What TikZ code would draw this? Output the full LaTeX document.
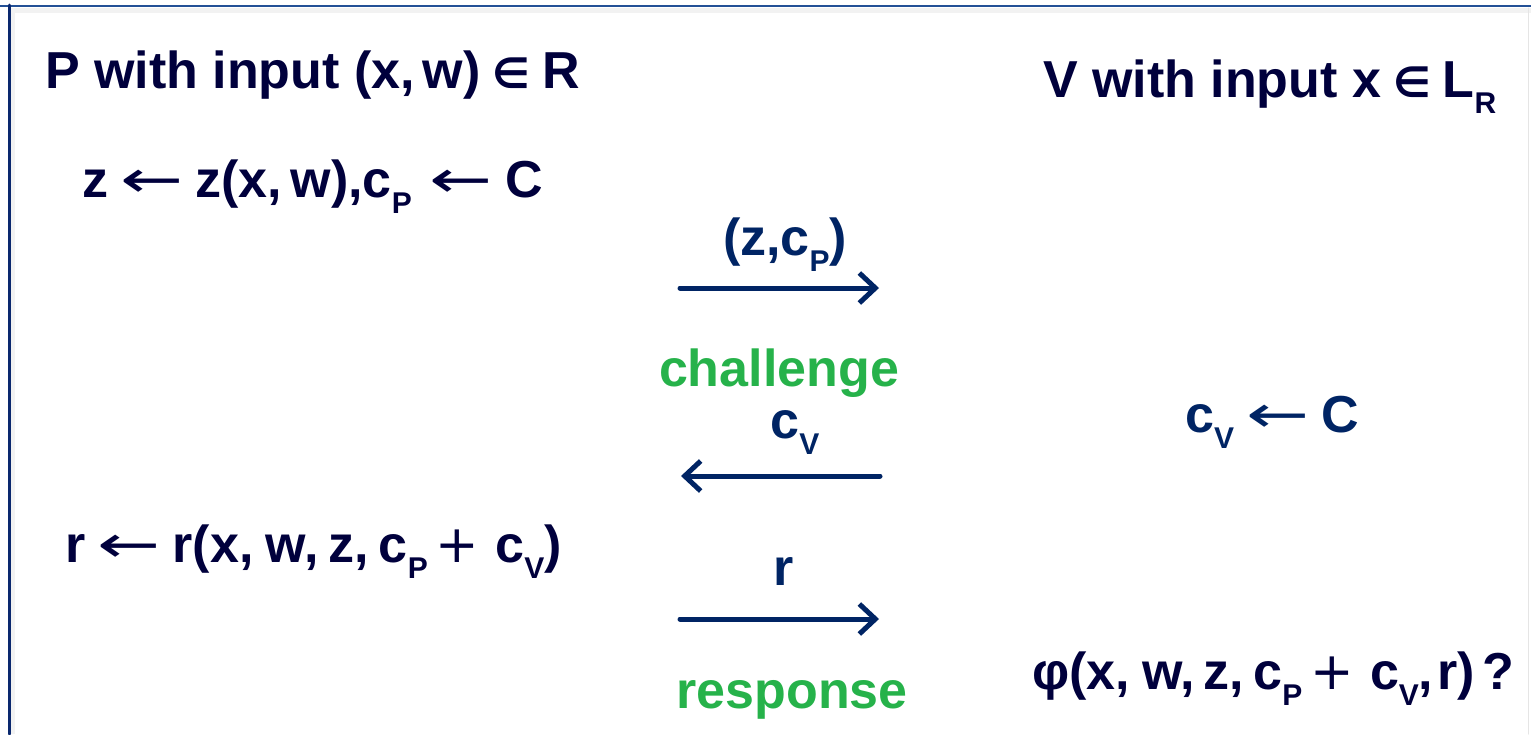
\documentclass[tikz,border=0pt]{standalone}
\usepackage{fontspec}
\usepackage{graphicx}
\setmainfont{Liberation Sans}
\newfontfamily\symfont{DejaVu Sans}
\usetikzlibrary{arrows.meta}

\definecolor{ink}{RGB}{0,0,60}
\definecolor{navy}{RGB}{0,36,100}
\definecolor{phasegreen}{RGB}{38,178,74}
\definecolor{frameblue}{RGB}{35,80,150}
\definecolor{framenavy}{RGB}{10,40,110}

% subscript and symbol helpers
\newcommand{\idx}[1]{\raisebox{-16pt}{\fontsize{30}{30}\selectfont #1}}
\newcommand{\sy}[1]{{\symfont\mdseries #1}}
\newcommand{\getsarr}{\hspace{12pt}\scalebox{1.45}[1]{\sy{←}}\hspace{12pt}}
\newcommand{\memb}{\hspace{12pt}{\symfont\fontsize{42}{50}\selectfont ∈}\hspace{12pt}}
\newcommand{\pls}{\hspace{8pt}\sy{+}\hspace{16pt}}

\begin{document}
\begin{tikzpicture}[x=1pt, y=-1pt, line cap=round, line join=round,
  party/.style={anchor=base west, inner sep=0pt, text=ink,
    font=\bfseries\fontsize{52}{60}\selectfont},
  formula/.style={party},
  msglabel/.style={anchor=base, inner sep=0pt, text=navy,
    font=\bfseries\fontsize{52}{60}\selectfont},
  phase/.style={anchor=base, inner sep=0pt, text=phasegreen,
    font=\bfseries\fontsize{52}{60}\selectfont},
  msg/.style={navy, line width=5pt, -{Straight Barb[length=16pt, width=30pt]}}]

\useasboundingbox (0,0) rectangle (1531,734);

% -----------------------
% Slide frame
% -----------------------
\fill[black!5] (12,8) rectangle (1531,13);
\fill[black!5] (11,8) rectangle (15,734);
\draw[frameblue, line width=2pt] (0,6) -- (1531,6);
\draw[framenavy, line width=3pt] (9,5) -- (9,734);
\draw[black!10, line width=1pt] (1528,8) -- (1528,734);

% -----------------------
% Prover and verifier
% -----------------------
\node[party] (P) at (45,88) {P with input (x,\hspace{8pt}w)\memb R};
\node[party] (V) at (1043,97) {V with input x\memb L\idx{R}};

% local computations
\node[formula] (zcom) at (82,197) {z\getsarr z(x,\,w),c\idx{P}\hspace{6pt}\getsarr C};
\node[formula, text=navy] (cvpick) at (1185,432) {c\idx{V}\getsarr C};
\node[formula] (rcomp) at (65,562) {r\getsarr r(x,\hspace{12pt}w,\hspace{10pt}z,\hspace{10pt}c\idx{P}\pls c\idx{V})};
\node[formula] (check) at (1032,689) {φ(x,\hspace{12pt}w,\hspace{8pt}z,\hspace{10pt}c\idx{P}\pls c\idx{V},\hspace{4pt}r)\hspace{8pt}?};

% -----------------------
% Messages
% -----------------------
\coordinate (m1s) at (680,288);
\coordinate (m1e) at (879,288);
\coordinate (m2s) at (880,476);
\coordinate (m2e) at (681,476);
\coordinate (m3s) at (680,619);
\coordinate (m3e) at (879,619);

\draw[msg] (m1s) -- (m1e);
\draw[msg] (m2s) -- (m2e);
\draw[msg] (m3s) -- (m3e);

\node[msglabel] (m1lab) at (785,255) {(z,c\idx{P})};
\node[msglabel] (m2lab) at (795,438) {c\idx{V}};
\node[msglabel] (m3lab) at (784,585) {r};

% phase names
\node[phase] (chal) at (779,386) {challenge};
\node[phase] (resp) at (792,708) {response};

\end{tikzpicture}
\end{document}
